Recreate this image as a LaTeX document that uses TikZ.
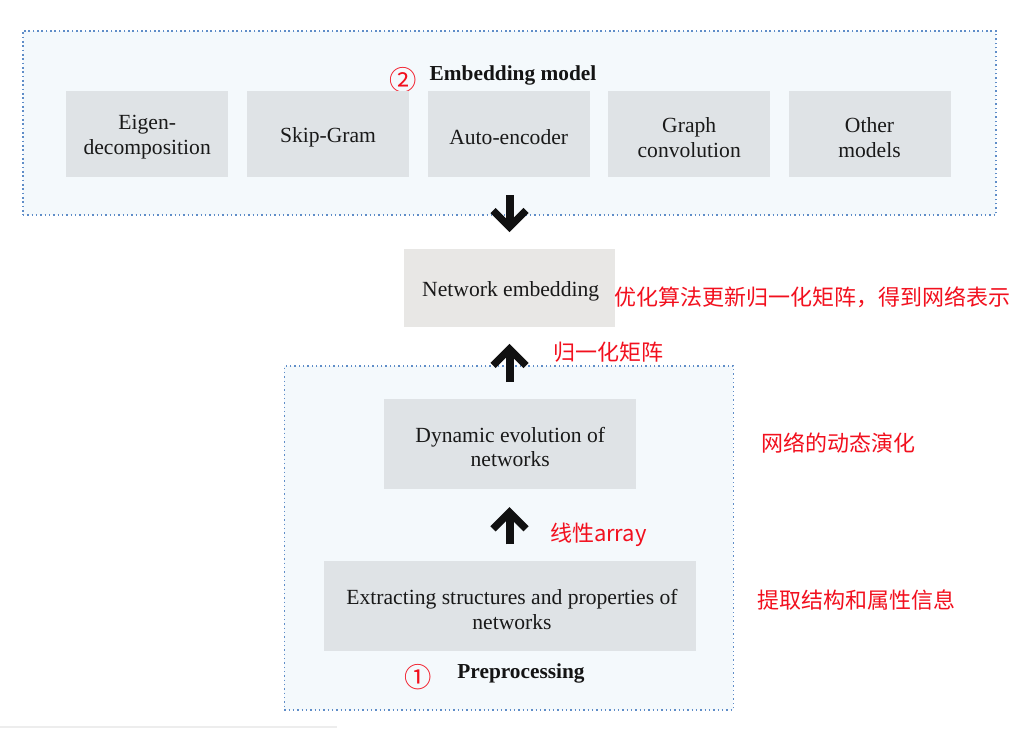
\documentclass[tikz,border=0pt]{standalone}
\usepackage{fontspec}
\setmainfont{Liberation Serif}
\newfontfamily\cjk{Noto Sans CJK SC}
\usetikzlibrary{calc}
\definecolor{frameblue}{HTML}{5F8DC8}
\definecolor{framefill}{HTML}{F4F9FC}
\definecolor{boxgray}{HTML}{DFE3E6}
\definecolor{netgray}{HTML}{E8E7E5}
\definecolor{lblred}{HTML}{F2101E}
\definecolor{arrowblk}{HTML}{111111}
\begin{document}
\begin{tikzpicture}[x=0.75pt,y=-0.75pt,
  every node/.style={inner sep=0pt, outer sep=0pt},
  txt/.style={font=\fontsize{16.2}{18.4}\selectfont, align=center, text=black!90},
  frame/.style={draw=frameblue, fill=framefill, line width=1.1pt, dash pattern=on 1.1pt off 2.15pt},
  modelbox/.style={fill=boxgray, minimum width=121.5pt, minimum height=64.3pt},
  netbox/.style={fill=netgray, minimum width=158pt, minimum height=58pt},
  stagebox/.style={fill=boxgray, minimum height=67.3pt},
  title/.style={font=\fontsize{16}{18.2}\selectfont\bfseries, text=black!92},
  redlbl/.style={font=\cjk\fontsize{16.5}{18}\selectfont, text=lblred, anchor=west},
  circnum/.style={font=\cjk\fontsize{20.5}{22}\selectfont, text=lblred},
  shaft/.style={draw=arrowblk, line width=6pt},
  chev/.style={draw=arrowblk, line width=5.5pt, miter limit=10}
]
\useasboundingbox (0,0) rectangle (1024,732);
\fill[white] (0,0) rectangle (1024,732);
\draw[black!7, line width=1.5pt] (0,727) -- (337,727);

% frames
\node[frame, minimum width=729.75pt, minimum height=138.2pt] (topframe) at (509.5,122.9) {};
\node[frame, minimum width=336.75pt, minimum height=258pt] (botframe) at (508.8,538) {};

% embedding model
\node[title, anchor=base] (emtitle) at (513,80) {Embedding model};
\node[circnum] (c2) at (403,79.7) {②};
\node[modelbox] (m1) at (147.2,133.9) {};
\node[modelbox] (m2) at (328,133.9) {};
\node[modelbox] (m3) at (508.7,133.9) {};
\node[modelbox] (m4) at (689.2,133.9) {};
\node[modelbox] (m5) at (869.5,133.9) {};
\node[txt] (m1t) at ($(m1.center)+(0,3.5)$) {Eigen-\\decomposition};
\node[txt] (m2t) at ($(m2.center)+(0,3.5)$) {Skip-Gram};
\node[txt] (m3t) at ($(m3.center)+(0,3.5)$) {Auto-encoder};
\node[txt] (m4t) at ($(m4.center)+(0,3.5)$) {Graph\\convolution};
\node[txt] (m5t) at ($(m5.center)+(0,3.5)$) {Other\\models};

% network embedding
\node[netbox] (net) at (509.7,288) {};
\node[txt] (nett) at ($(net.center)+(1,3.5)$) {Network embedding};
\node[redlbl] (l1) at (614,297) {优化算法更新归一化矩阵，得到网络表示};

% preprocessing
\node[stagebox, minimum width=188.8pt] (dyn) at (510.2,443.9) {};
\node[txt] (dynt) at ($(dyn.center)+(0,3)$) {Dynamic evolution of\\networks};
\node[stagebox, minimum width=279pt] (ext) at (510,605.9) {};
\node[txt] (extt) at ($(ext.center)+(2,3.5)$) {Extracting structures and properties of\\networks};
\node[title, anchor=base] (pptitle) at (521,678) {Preprocessing};
\node[circnum] (c1) at (418,676.7) {①};

\node[redlbl] (l2) at (553,352) {归一化矩阵};
\node[redlbl] (l3) at (761,443) {网络的动态演化};
\node[redlbl] (l4) at (550,535) {线性array};
\node[redlbl] (l5) at (757,600) {提取结构和属性信息};

% arrows
\coordinate (a1s) at (509.5,195);
\coordinate (a1e) at (509.5,227);
\draw[shaft] (a1s) -- (a1e);
\draw[chev] (a1e) ++(-16.5,-16.5) -- (a1e) -- ++(16.5,-16.5);

\coordinate (a2s) at (509.5,382);
\coordinate (a2e) at (509.5,349);
\draw[shaft] (a2s) -- (a2e);
\draw[chev] (a2e) ++(-16.5,16.5) -- (a2e) -- ++(16.5,16.5);

\coordinate (a3s) at (509.5,544.3);
\coordinate (a3e) at (509.5,512.3);
\draw[shaft] (a3s) -- (a3e);
\draw[chev] (a3e) ++(-16.5,16.5) -- (a3e) -- ++(16.5,16.5);
\end{tikzpicture}
\end{document}
